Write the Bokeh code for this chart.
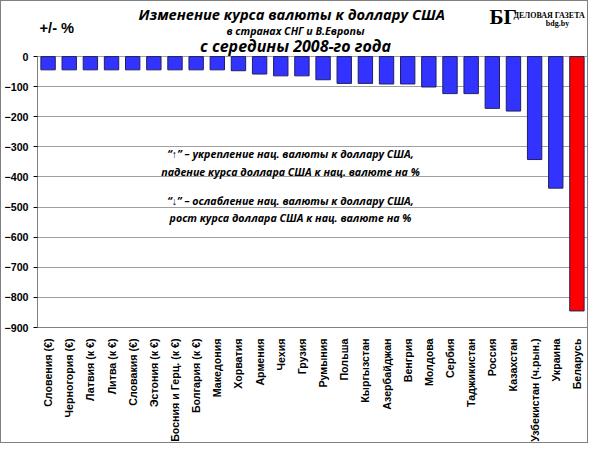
from bokeh.plotting import figure
from bokeh.models import Label, FixedTicker, Range1d
from bokeh.embed import file_html
from bokeh.resources import INLINE

countries = ["Словения (€)", "Черногория (€)", "Латвия (к €)", "Литва (к €)",
             "Словакия (€)", "Эстония (к €)", "Босния и Герц. (к €)", "Болгария (к €)",
             "Македония", "Хорватия", "Армения", "Чехия", "Грузия", "Румыния",
             "Польша", "Кыргызстан", "Азербайджан", "Венгрия", "Молдова", "Сербия",
             "Таджикистан", "Россия", "Казахстан", "Узбекистан (ч.рын.)", "Украина",
             "Беларусь"]
change = [-44, -44, -44, -44, -44, -44, -44, -44, -44, -47, -58, -64, -64, -77,
          -89, -89, -91, -91, -101, -123, -123, -172, -181, -342, -437, -845]
colors = ["#3333ff"] * (len(countries) - 1) + ["#ff0000"]
y_ticks = [0, -100, -200, -300, -400, -500, -600, -700, -800, -900]

p = figure(x_range=countries, y_range=Range1d(-900, 183), width=588, height=443,
           output_backend="svg", toolbar_location=None,
           min_border_left=24, min_border_right=2, min_border_top=0,
           min_border_bottom=100)
p.vbar(x=countries, top=change, width=0.68, fill_color=colors,
       line_color="#202060", line_width=1)

p.yaxis.ticker = FixedTicker(ticks=y_ticks)
p.yaxis.bounds = (-900, 0)
p.yaxis.major_label_text_font = "Arial"
p.yaxis.major_label_text_font_style = "bold"
p.yaxis.major_label_text_font_size = "8pt"
p.yaxis.major_label_text_color = "black"
p.yaxis.axis_line_color = "#808080"
p.yaxis.major_tick_out = 4
p.yaxis.major_tick_in = 0
p.yaxis.minor_tick_line_color = None
p.xaxis.major_label_orientation = 1.5708
p.xaxis.major_label_text_font = "Arial"
p.xaxis.major_label_text_font_style = "bold"
p.xaxis.major_label_text_font_size = "8pt"
p.xaxis.major_label_text_color = "black"
p.xaxis.axis_line_color = "#808080"
p.xaxis.major_tick_line_color = None
p.xgrid.grid_line_color = None
p.ygrid.grid_line_color = "#a0a0a0"
p.outline_line_color = None
p.styles = {"border": "1px solid #808080"}

def lab(x, y, text, size, style="bold italic", font="Open Sans", align="center"):
    # x in screen pixels from the frame's left edge, y in data units
    p.add_layout(Label(x=x, y=y, x_units="screen", y_units="data", text=text,
                       text_font=font, text_font_size=size, text_font_style=style,
                       text_align=align, text_baseline="middle", text_color="black"))

lab(258, 140, "Изменение  курса валюты  к доллару США", "11pt")
lab(258, 85, "в странах СНГ и В.Европы", "8pt")
lab(258, 35, "с середины 2008-го года", "12pt")
lab(2, 95, "+/- %", "11pt", style="bold", font="Arial", align="left")
lab(452, 130, "БГ", "16pt", style="bold", font="Liberation Serif", align="left")
lab(476, 135, "ДЕЛОВАЯ ГАЗЕТА", "6pt", style="bold", font="Liberation Serif",
    align="left")
lab(520, 110, "bdg.by", "6pt", style="bold", font="Liberation Serif")

lab(253, -325, "“↑” – укрепление нац. валюты к доллару США,", "8pt")
lab(253, -383, "падение курса доллара США к нац. валюте на %", "8pt")
lab(253, -479, "“↓” – ослабление нац. валюты к доллару США,", "8pt")
lab(253, -537, "рост курса доллара США к нац. валюте на %", "8pt")

open("out.html", "w").write(file_html(p, INLINE))
